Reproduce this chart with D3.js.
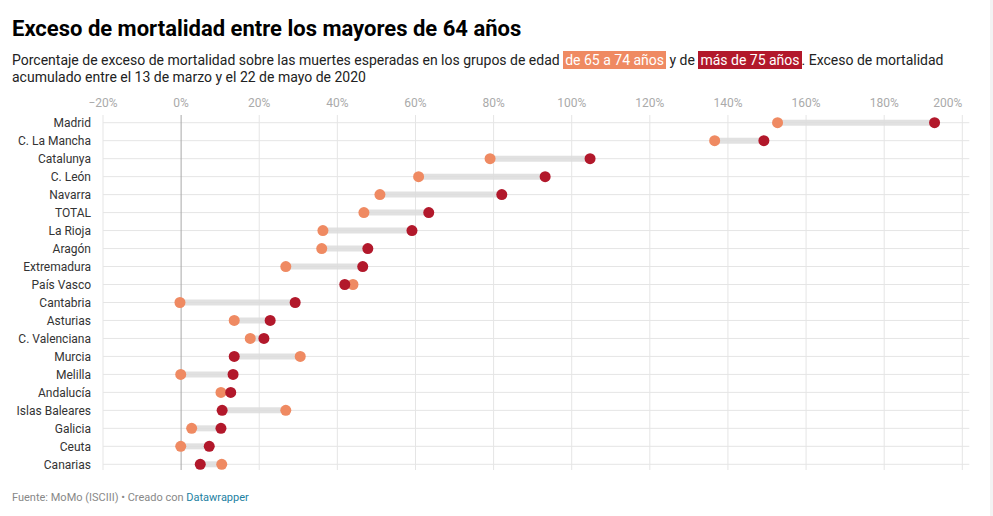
<!DOCTYPE html>
<head>
<meta charset="utf-8">
<style>
  body { margin: 0; background: #fff; font-family: Roboto, "Noto Sans", sans-serif; overflow: hidden; }
  #head { position: absolute; left: 12px; top: 0; width: 975px; }
  h1 { margin: 0; position: absolute; top: 16px; left: 0; font-size: 22px; font-weight: 700; color: #000; white-space: nowrap; }
  .sub { position: absolute; top: 52px; left: 0; font-size: 14px; line-height: 17px; color: #222; white-space: nowrap; }
  .hl { color: #fff; padding: 1px 2px; }
  .scroll { position: absolute; left: 990px; top: 0; width: 3px; height: 516px; background: #f3f3f3; }
</style>
</head>
<body>
<div id="head">
  <h1>Exceso de mortalidad entre los mayores de 64 años</h1>
  <div class="sub">Porcentaje de exceso de mortalidad sobre las muertes esperadas en los grupos de edad <span class="hl" style="background:#ef8a62">de 65 a 74 años</span> y de <span class="hl" style="background:#b2182b">más de 75 años</span>. Exceso de mortalidad<br>acumulado entre el 13 de marzo y el 22 de mayo de 2020</div>
</div>
<div class="scroll"></div>
<svg width="993" height="516"></svg>
<script src="https://d3js.org/d3.v7.min.js"></script>
<script>

var regions = ["Madrid", "C. La Mancha", "Catalunya", "C. León", "Navarra", "TOTAL", "La Rioja", "Aragón",
  "Extremadura", "País Vasco", "Cantabria", "Asturias", "C. Valenciana", "Murcia", "Melilla", "Andalucía",
  "Islas Baleares", "Galicia", "Ceuta", "Canarias"];
var age65_74 = [152.7, 136.6, 79.1, 60.8, 50.9, 46.8, 36.3, 36.0, 26.8, 44.0, -0.3, 13.6, 17.7, 30.5, -0.1, 10.2, 26.8, 2.7, -0.1, 10.4];
var age75plus = [192.9, 149.2, 104.7, 93.2, 82.1, 63.4, 59.1, 47.8, 46.5, 41.9, 29.2, 22.8, 21.2, 13.6, 13.3, 12.7, 10.5, 10.2, 7.2, 4.9];
var ticks = [-20, 0, 20, 40, 60, 80, 100, 120, 140, 160, 180, 200];

var orange = "#ef8a62", red = "#b2182b";

var svg = d3.select("svg");

var x = d3.scaleLinear().domain([-20, 200]).range([103, 962.3]);
var y = d3.scalePoint().domain(regions).range([122.7, 464.3]);

var data = regions.map(function(r, i) { return {name: r, a: age65_74[i], b: age75plus[i]}; });

// grid
var grid = svg.append("g");
grid.selectAll(".hline").data(regions).enter().append("line")
    .attr("x1", x(-20)).attr("x2", x(200) + 7)
    .attr("y1", function(d) { return y(d); }).attr("y2", function(d) { return y(d); })
    .attr("stroke", "#e5e5e5").attr("stroke-width", 1);
grid.selectAll(".vline").data(ticks).enter().append("line")
    .attr("x1", function(d) { return x(d); }).attr("x2", function(d) { return x(d); })
    .attr("y1", 115).attr("y2", 470)
    .attr("stroke", function(d) { return d === 0 ? "#a8a8a8" : "#e5e5e5"; })
    .attr("stroke-width", 1);

// tick labels
svg.append("g").selectAll("text").data(ticks).enter().append("text")
    .attr("x", function(d) { return x(d); })
    .attr("y", 107)
    .attr("text-anchor", function(d) { return d === 200 ? "end" : "middle"; })
    .attr("fill", "#aaa")
    .attr("font-size", 12)
    .text(function(d) { return (d < 0 ? "\u2212" + (-d) : d) + "%"; });

// row labels
svg.append("g").selectAll("text").data(regions).enter().append("text")
    .attr("x", 91)
    .attr("y", function(d) { return y(d); })
    .attr("dy", "0.35em")
    .attr("text-anchor", "end")
    .attr("fill", "#333")
    .attr("font-size", 12)
    .text(function(d) { return d; });

// range bars
svg.append("g").selectAll("line").data(data).enter().append("line")
    .attr("x1", function(d) { return x(d.a); }).attr("x2", function(d) { return x(d.b); })
    .attr("y1", function(d) { return y(d.name); }).attr("y2", function(d) { return y(d.name); })
    .attr("stroke", "#dcdcdc").attr("stroke-opacity", 0.85).attr("stroke-width", 6);

// dots
var dots = svg.append("g");
dots.selectAll(".a").data(data).enter().append("circle")
    .attr("cx", function(d) { return x(d.a); })
    .attr("cy", function(d) { return y(d.name); })
    .attr("r", 5.5).attr("fill", orange);
dots.selectAll(".b").data(data).enter().append("circle")
    .attr("cx", function(d) { return x(d.b); })
    .attr("cy", function(d) { return y(d.name); })
    .attr("r", 5.5).attr("fill", red);

// footer
var foot = svg.append("text").attr("x", 12).attr("y", 501).attr("font-size", 11).attr("fill", "#888");
foot.append("tspan").text("Fuente: MoMo (ISCIII) \u2022 Creado con ");
foot.append("tspan").attr("fill", "#1d81a2").text("Datawrapper");

</script>
</body>
